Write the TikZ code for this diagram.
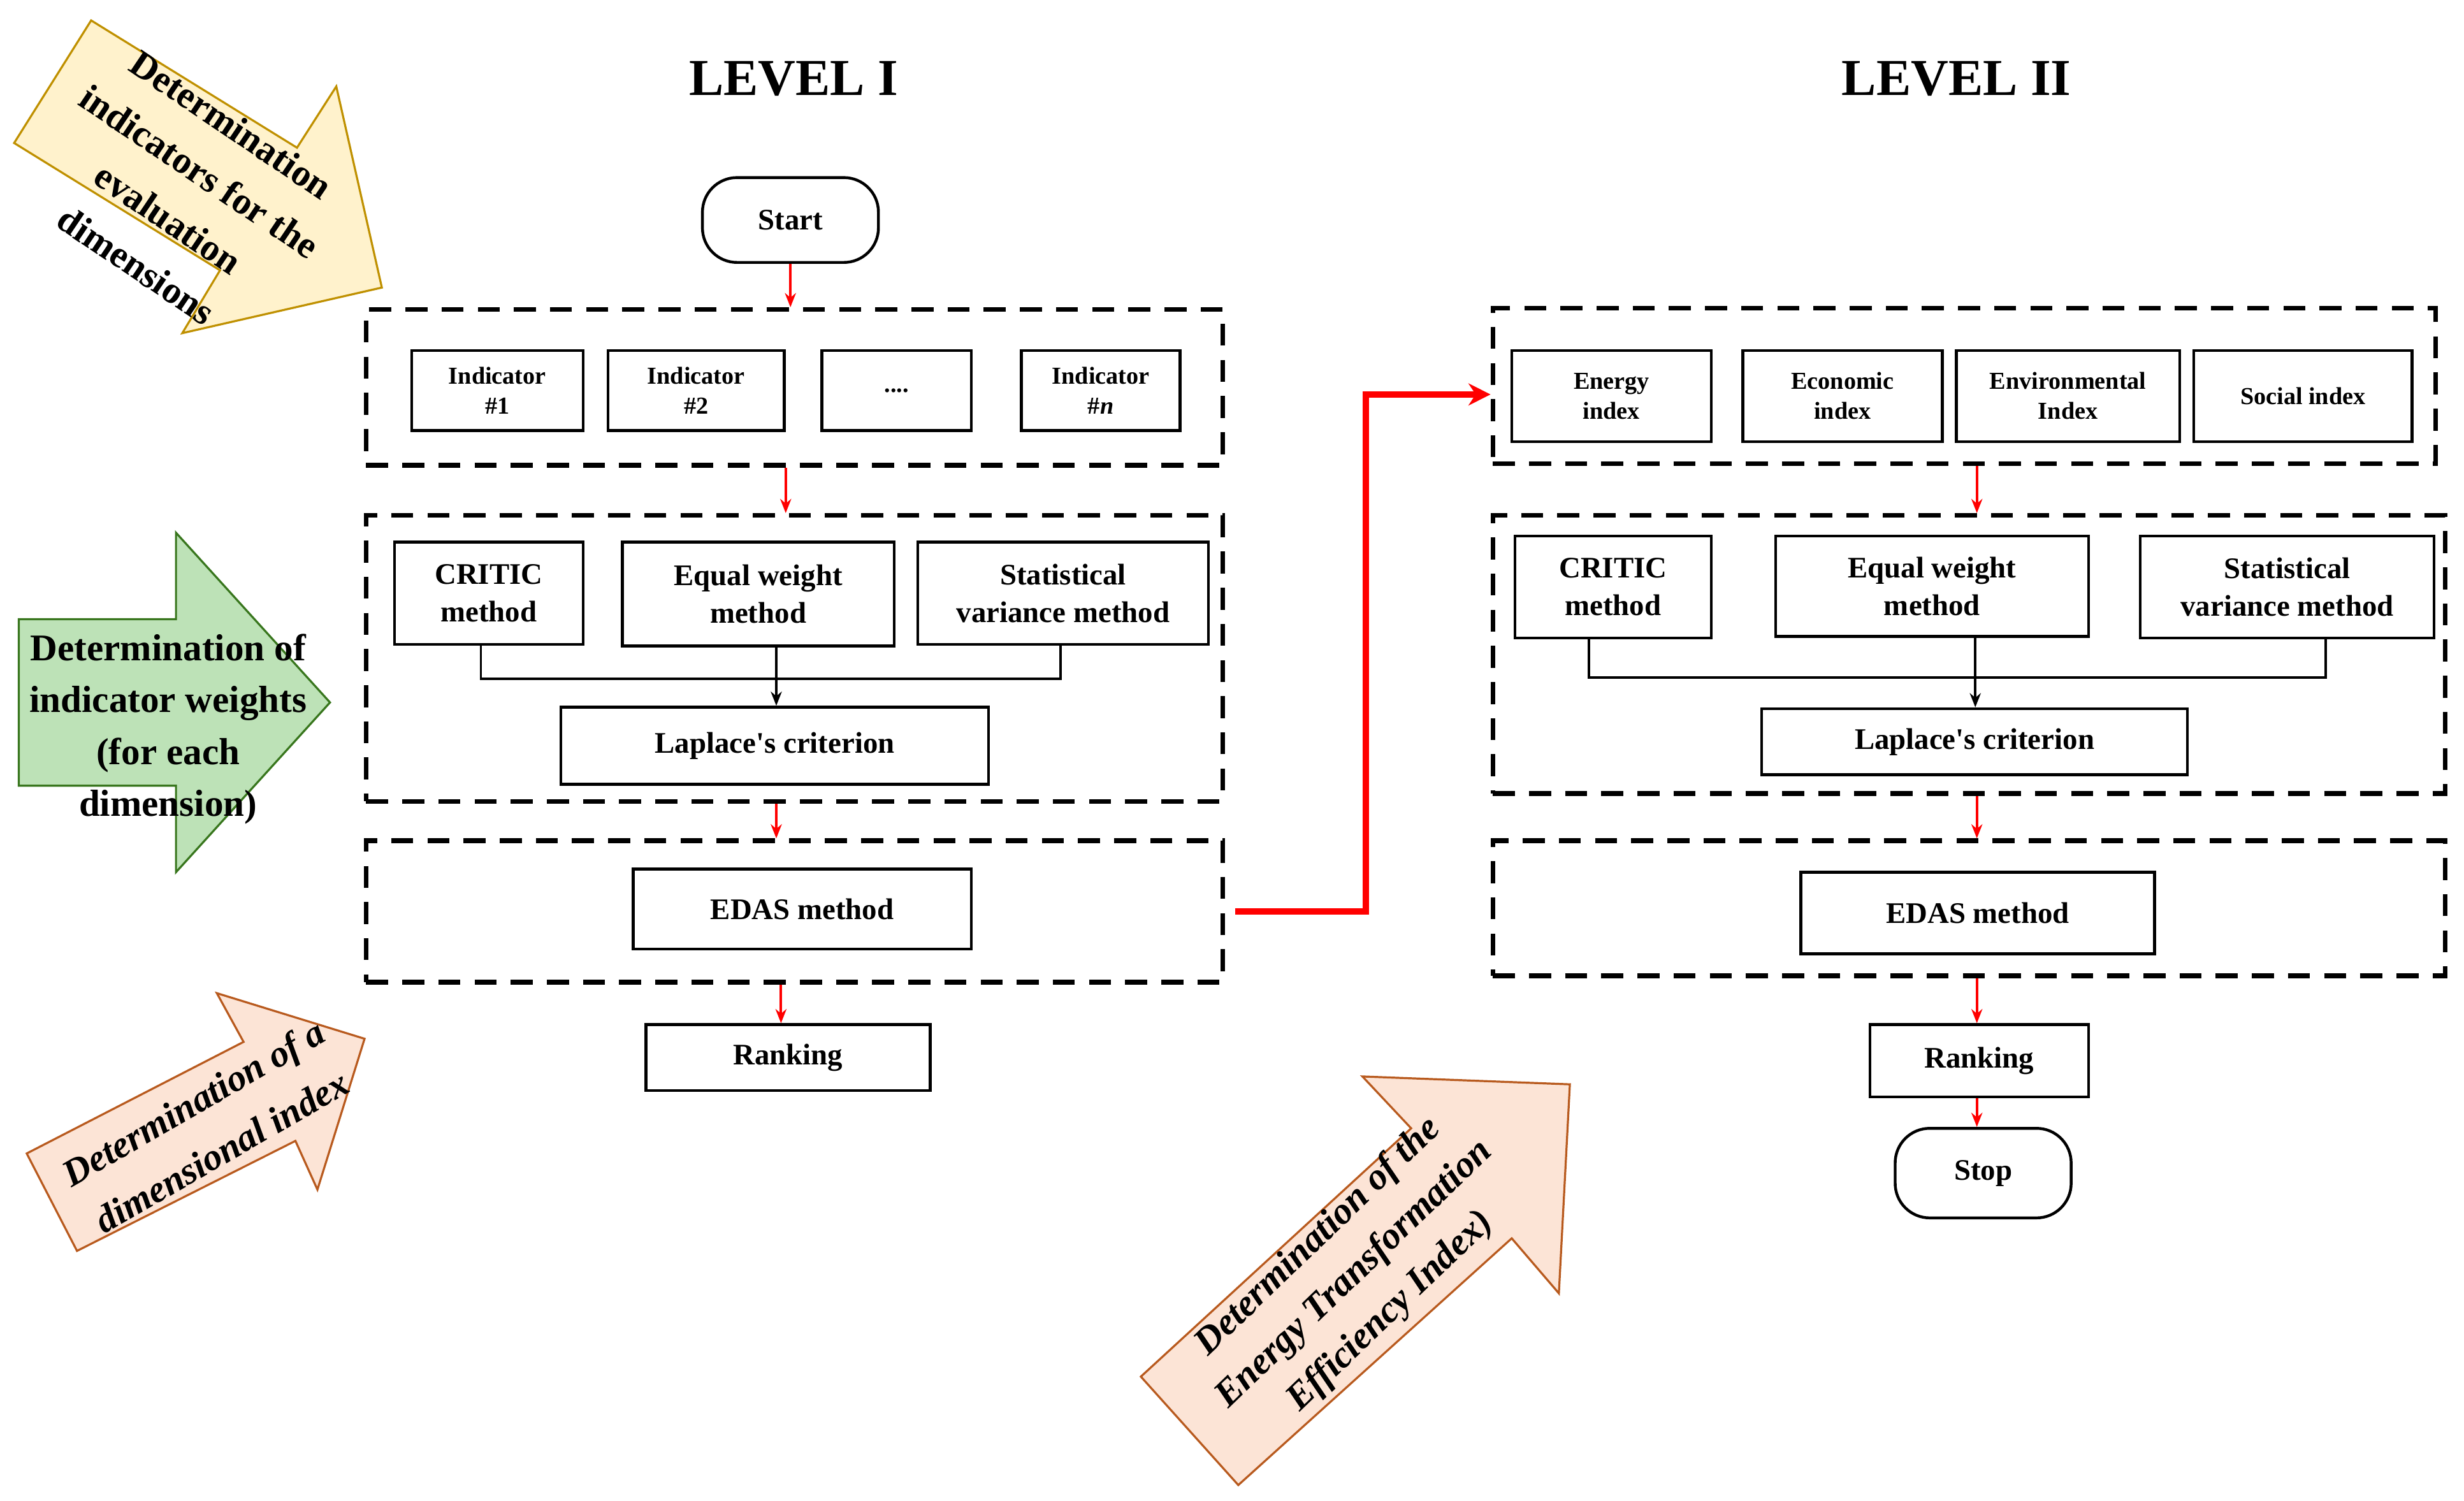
\documentclass[tikz,border=0pt]{standalone}
\usepackage{fontspec}
\setmainfont{Liberation Serif}
\usetikzlibrary{arrows.meta}
\begin{document}
\begin{tikzpicture}[x=1pt,y=-1pt,
 box/.style={draw,line width=1.8pt,inner sep=0pt,align=center,font=\fontsize{19}{24}\selectfont\bfseries},
 sbox/.style={box,font=\fontsize{15.5}{19}\selectfont\bfseries},
 dbox/.style={draw,line width=3pt,dash pattern=on 14pt off 9pt,inner sep=0pt},
 rarr/.style={red,line width=1.6pt,-{Stealth[length=9pt,width=7pt]}},
 karr/.style={black,line width=1.6pt,-{Stealth[length=9pt,width=7pt]}},
 atext/.style={align=center,inner sep=0pt,font=\fontsize{24}{36}\selectfont\bfseries},
 otext/.style={align=center,inner sep=0pt,font=\fontsize{24}{36}\selectfont\bfseries\itshape}]
\useasboundingbox (0,0) rectangle (1568,955);
\newcommand{\bx}[6]{\node[#1,minimum width=#4-#3,minimum height=#6-#5] (#2) at ({(#3+#4)/2},{(#5+#6)/2}) {};}
% titles
\node[font=\fontsize{33}{36}\selectfont\bfseries] (t1) at (505,50) {LEVEL I};
\node[font=\fontsize{33}{36}\selectfont\bfseries] (t2) at (1245,50) {LEVEL II};
% LEVEL I
\node[draw,line width=1.8pt,rounded corners=22pt,minimum width=112pt,minimum height=54pt,font=\fontsize{19}{21}\selectfont\bfseries] (start) at (503,140) {Start};
\bx{dbox}{a1}{233}{778}{197}{296}
\bx{dbox}{a2}{233}{778}{328}{510}
\bx{dbox}{a3}{233}{778}{535}{625}
\node[sbox,minimum width=109pt,minimum height=51pt] (i1) at (316.5,248.5) {Indicator\\\#1};
\node[sbox,minimum width=112pt,minimum height=51pt] (i2) at (443,248.5) {Indicator\\\#2};
\node[sbox,minimum width=95pt,minimum height=51pt] (i3) at (570.5,248.5) {....};
\node[sbox,minimum width=101pt,minimum height=51pt] (i4) at (700.5,248.5) {Indicator\\\#\textit{n}};
\node[box,minimum width=120pt,minimum height=65pt] (c1) at (311,377.5) {CRITIC\\method};
\node[box,minimum width=173pt,minimum height=66pt] (e1) at (482.5,378) {Equal weight\\method};
\node[box,minimum width=185pt,minimum height=65pt] (s1) at (676.5,377.5) {Statistical\\variance method};
\node[box,minimum width=272pt,minimum height=49pt] (l1) at (493,474.5) {Laplace\textquotesingle s criterion};
\node[box,minimum width=215pt,minimum height=51pt] (ed1) at (510.5,578.5) {EDAS method};
\node[box,minimum width=181pt,minimum height=42pt] (r1) at (501.5,673) {Ranking};
\draw[rarr] (start.south) -- (a1.north -| start);
\draw[rarr] (a1.south -| 500,0) -- (a2.north -| 500,0);
\draw[rarr] (a2.south -| 494,0) -- (a3.north -| 494,0);
\draw[rarr] (a3.south -| 497,0) -- (r1.north -| 497,0);
\draw[line width=1.5pt] (c1.south -| 306,0) -- (306,432) -- (675,432) -- (s1.south -| 675,0);
\draw[karr] (e1.south -| 494,0) -- (l1.north -| 494,0);
% LEVEL II
\bx{dbox}{b1}{950}{1550}{196}{295}
\bx{dbox}{b2}{950}{1556}{328}{505}
\bx{dbox}{b3}{950}{1556}{535}{621}
\node[sbox,minimum width=127pt,minimum height=58pt] (j1) at (1025.5,252) {Energy\\index};
\node[sbox,minimum width=127pt,minimum height=58pt] (j2) at (1172.5,252) {Economic\\index};
\node[sbox,minimum width=142pt,minimum height=58pt] (j3) at (1316,252) {Environmental\\Index};
\node[sbox,minimum width=139pt,minimum height=58pt] (j4) at (1465.5,252) {Social index};
\node[box,minimum width=125pt,minimum height=65pt] (c2) at (1026.5,373.5) {CRITIC\\method};
\node[box,minimum width=199pt,minimum height=64pt] (e2) at (1229.5,373) {Equal weight\\method};
\node[box,minimum width=187pt,minimum height=65pt] (s2) at (1455.5,373.5) {Statistical\\variance method};
\node[box,minimum width=271pt,minimum height=42pt] (l2) at (1256.5,472) {Laplace\textquotesingle s criterion};
\node[box,minimum width=225pt,minimum height=52pt] (ed2) at (1258.5,581) {EDAS method};
\node[box,minimum width=139pt,minimum height=46pt] (r2) at (1259.5,675) {Ranking};
\node[draw,line width=1.8pt,rounded corners=22pt,minimum width=112pt,minimum height=57pt,font=\fontsize{19}{21}\selectfont\bfseries] (stop) at (1262,746.5) {Stop};
\draw[rarr] (b1.south -| 1258,0) -- (b2.north -| 1258,0);
\draw[rarr] (b2.south -| 1258,0) -- (b3.north -| 1258,0);
\draw[rarr] (b3.south -| 1258,0) -- (r2.north -| 1258,0);
\draw[rarr] (r2.south -| 1258,0) -- (stop.north -| 1258,0);
\draw[line width=1.5pt] (c2.south -| 1011,0) -- (1011,431) -- (1480,431) -- (s2.south -| 1480,0);
\draw[karr] (e2.south -| 1257,0) -- (l2.north -| 1257,0);
% level connector
\coordinate (lc) at (786,580);
\draw[red,line width=4pt,-{Stealth[length=14pt,width=14pt]}] (lc) -- (869,580) |- (b1.west |- 0,251);
% block arrows
\draw[draw={rgb,255:red,191;green,144;blue,0},fill={rgb,255:red,255;green,242;blue,204},line width=1.3pt]
 (58,13) -- (189,94) -- (214,55) -- (243,183) -- (116,212) -- (140,172) -- (9,91) -- cycle;
\draw[draw={rgb,255:red,56;green,118;blue,29},fill={rgb,255:red,189;green,226;blue,183},line width=1.3pt]
 (12,394) -- (112,394) -- (112,339) -- (210,447) -- (112,555) -- (112,500) -- (12,500) -- cycle;
\draw[draw={rgb,255:red,184;green,90;blue,30},fill={rgb,255:red,252;green,228;blue,214},line width=1.3pt]
 (17,734) -- (155,663) -- (138,632) -- (232,661) -- (202,757) -- (188,726) -- (49,796) -- cycle;
\draw[draw={rgb,255:red,184;green,90;blue,30},fill={rgb,255:red,252;green,228;blue,214},line width=1.3pt]
 (726,876) -- (898,718) -- (867,685) -- (999,690) -- (992,823) -- (962,788) -- (788,945) -- cycle;
% arrow texts
\node[atext,rotate=-34] (ya) at (117,124) {Determination\\indicators for the\\evaluation\\dimensions};
\node[atext,font=\fontsize{24}{33}\selectfont\bfseries] (ga) at (107,464) {Determination of\\indicator weights\\(for each\\dimension)};
\node[otext,rotate=30] (oa) at (132,717) {Determination of a\\dimensional index};
\node[otext,rotate=44,font=\fontsize{24}{33}\selectfont\bfseries\itshape] (pa) at (862,811) {Determination of the\\Energy Transformation\\Efficiency Index)};
\end{tikzpicture}
\end{document}
